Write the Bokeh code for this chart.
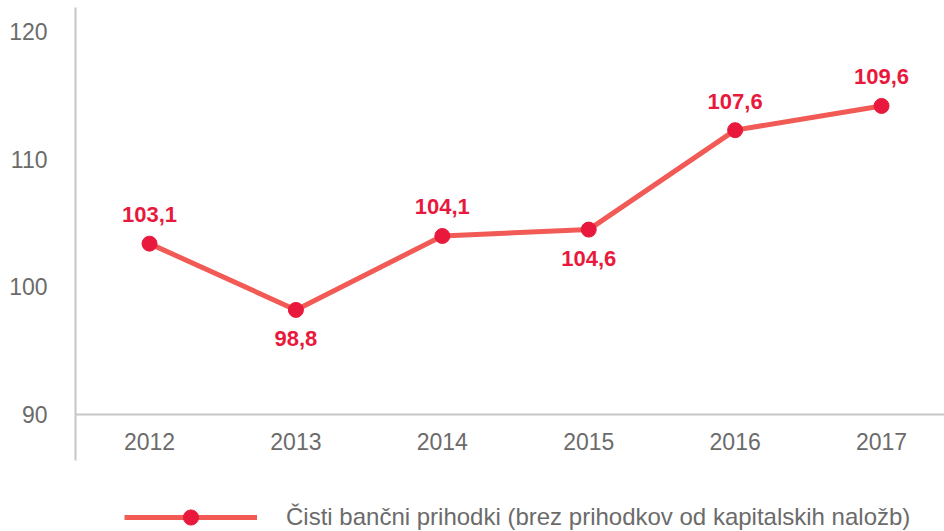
from bokeh.plotting import figure
from bokeh.layouts import column
from bokeh.models import Span, FixedTicker, Legend, LegendItem, ColumnDataSource, Range1d
from bokeh.core.properties import value
from bokeh.embed import file_html
from bokeh.resources import INLINE

# ---- data ----
years = [2012, 2013, 2014, 2015, 2016, 2017]
values = [103.4, 98.2, 104.0, 104.5, 112.3, 114.2]
labels = ["103,1", "98,8", "104,1", "104,6", "107,6", "109,6"]
label_side = ["above", "below", "above", "below", "above", "above"]
y_ticks = [90, 100, 110, 120]
series_name = "Čisti bančni prihodki (brez prihodkov od kapitalskih naložb)"

FONT = "Liberation Sans"
LINE_COLOR = "#F15A55"
MARK_COLOR = "#E8193C"
AXIS_COLOR = "#C6C6C8"
TEXT_COLOR = "#6B6B6B"

offsets = [-29 if s == "above" else 29 for s in label_side]
src = ColumnDataSource(dict(x=years, y=values, lab=labels, off=offsets))

p = figure(width=944, height=464, output_backend="svg", toolbar_location=None,
           x_range=Range1d(2011.4945, 2017.430), y_range=Range1d(86.39, 121.92),
           min_border_left=75, min_border_right=0, min_border_top=7, min_border_bottom=4)
p.xgrid.visible = False
p.ygrid.visible = False
p.outline_line_color = None
p.background_fill_color = "white"
p.border_fill_color = "white"

# y axis
p.yaxis.ticker = FixedTicker(ticks=y_ticks)
p.yaxis.axis_line_color = AXIS_COLOR
p.yaxis.axis_line_width = 2
p.yaxis.major_tick_line_color = None
p.yaxis.minor_tick_line_color = None
p.yaxis.major_label_standoff = 22
p.yaxis.major_label_text_font = FONT
p.yaxis.major_label_text_font_size = "23px"
p.yaxis.major_label_text_color = TEXT_COLOR

# x axis
p.xaxis.ticker = FixedTicker(ticks=years)
p.xaxis.axis_line_color = None
p.xaxis.major_tick_line_color = None
p.xaxis.minor_tick_line_color = None
p.xaxis.major_label_standoff = -34
p.xaxis.major_label_text_font = FONT
p.xaxis.major_label_text_font_size = "23px"
p.xaxis.major_label_text_color = TEXT_COLOR

# baseline at 90
p.add_layout(Span(location=90, dimension="width", line_color=AXIS_COLOR, line_width=2))

ln = p.line("x", "y", source=src, line_color=LINE_COLOR, line_width=5)
pts = p.scatter("x", "y", source=src, size=15, fill_color=MARK_COLOR, line_color=MARK_COLOR)

p.text("x", "y", text="lab", source=src, y_offset="off",
       text_font=value(FONT), text_font_style="bold", text_font_size="22px",
       text_color=MARK_COLOR, text_align="center", text_baseline="middle")

# ---- legend strip (proxy renderers share the series data; view range keeps them out of sight) ----
lg = figure(width=944, height=67, output_backend="svg", toolbar_location=None,
            x_axis_type=None, y_axis_type=None, x_range=Range1d(0, 1), y_range=Range1d(0, 1),
            min_border_left=0, min_border_right=0, min_border_top=0, min_border_bottom=0)
lg.grid.visible = False
lg.outline_line_color = None
lg.background_fill_color = "white"
lg.border_fill_color = "white"
lg_line = lg.line(years, values, line_color=LINE_COLOR, line_width=5)
lg_pts = lg.scatter(years, values, size=15, fill_color=MARK_COLOR, line_color=MARK_COLOR)

legend = Legend(items=[LegendItem(label=series_name, renderers=[lg_line, lg_pts])],
                location=(49, -5), orientation="horizontal",
                glyph_width=133, glyph_height=38, label_standoff=29,
                label_text_font=FONT, label_text_font_size="24px",
                label_text_color=TEXT_COLOR, padding=0, margin=0, spacing=0,
                border_line_color=None, background_fill_alpha=0)
lg.add_layout(legend)

open("out.html", "w").write(file_html(column(p, lg, spacing=0), INLINE))
